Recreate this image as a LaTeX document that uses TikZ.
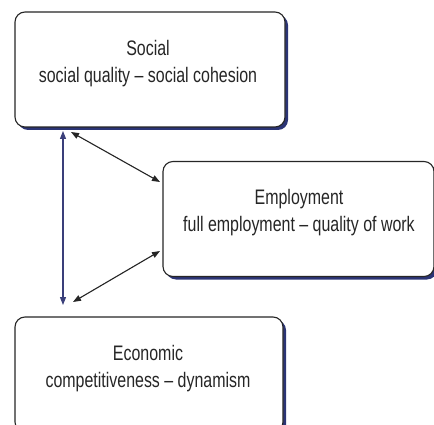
\documentclass[tikz,border=0pt]{standalone}
\usepackage{fontspec}
\setmainfont[FakeStretch=0.76]{Liberation Sans}
\usetikzlibrary{arrows.meta}
\definecolor{navy}{HTML}{2B3475}
\definecolor{arrowblue}{HTML}{3A3F7A}
\tikzset{
  box/.style={draw=black!85, line width=1.1pt, fill=white, rounded corners=10pt,
    minimum width=#1, minimum height=115pt, inner sep=0pt},
  box/.default=270pt,
  label text/.style={align=center, inner sep=0pt, font=\fontsize{21}{27}\selectfont, text=black!85},
  shadowbox/.style={fill=navy, rounded corners=10pt, minimum width=#1, minimum height=115pt, inner sep=0pt},
  shadowbox/.default=270pt,
  link/.style={line width=1.1pt, {Triangle[length=8pt,width=6pt]}-{Triangle[length=8pt,width=6pt]}}
}
\begin{document}
\begin{tikzpicture}[x=1pt,y=-1pt]
\useasboundingbox (0,0) rectangle (434,425);
\clip (0,0) rectangle (434,425);
% shadows
\node[shadowbox] (socsh) at (153,72.5) {};
\node[shadowbox=271pt] (empsh) at (301.5,222) {};
\node[shadowbox=268pt] (ecosh) at (152,377.5) {};
% boxes
\node[box] (soc) at (150,69.5) {};
\node[box=271pt] (emp) at (298.5,219) {};
\node[box=268pt] (eco) at (149,374.5) {};
% texts
\node[label text] (socT) at (148,64) {Social\\social quality -- social cohesion};
\node[label text] (empT) at (299,213) {Employment\\full employment -- quality of work};
\node[label text] (ecoT) at (148,369) {Economic\\competitiveness -- dynamism};
% connector ends
\coordinate (v1) at (63,131);
\coordinate (v2) at (63,305);
\coordinate (d1a) at (71,132);
\coordinate (d1b) at (160,182);
\coordinate (d2a) at (160,251);
\coordinate (d2b) at (73,302);
\draw[link, draw=arrowblue, fill=arrowblue] (v1) -- (v2);
\draw[link, draw=black!85, fill=black!85] (d1a) -- (d1b);
\draw[link, draw=black!85, fill=black!85] (d2a) -- (d2b);
\end{tikzpicture}
\end{document}
